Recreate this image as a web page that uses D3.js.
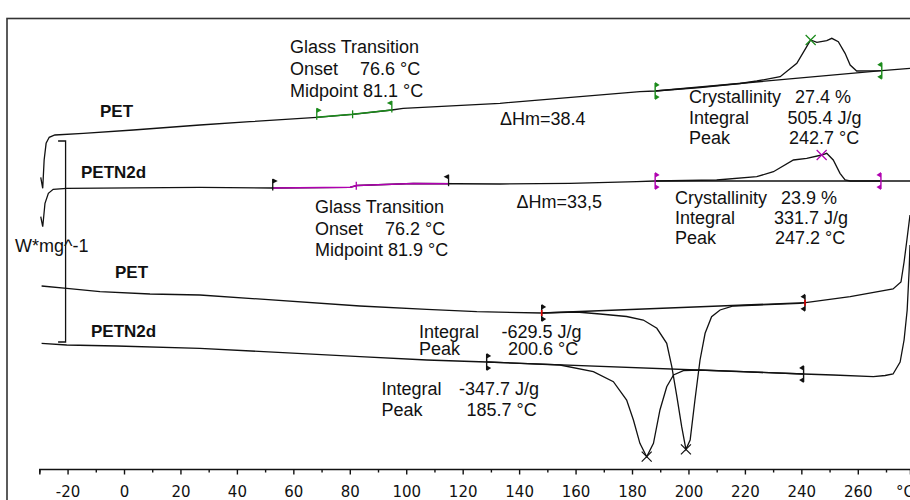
<!DOCTYPE html>
<html><head><meta charset="utf-8">
<script src="https://cdn.jsdelivr.net/npm/d3@7"></script>
<style>body{margin:0;background:#fff}svg text{font-family:"Liberation Sans",Arial,sans-serif;fill:#111}</style>
</head><body><svg id="c" width="910" height="500"></svg>
<script>
// ---- data: [temperature °C, heat flow (arbitrary offset units)] ----
const petHeating = [[-29.5,29.17],[-28.8,28.07],[-28.3,30.9],[-27.6,32.57],[-26.5,33.17],[-24.5,33.4],[-14.4,33.57],[3.3,33.9],[26.9,34.4],[44.6,34.73],[68.3,35.17],[81.0,35.47],[94.9,35.9],[98.9,36.07],[133.2,36.57],[182.8,37.73],[188.2,37.8],[204.1,38.15],[218.3,38.55],[224.2,38.8],[232.5,39.23],[238.4,40.57],[241.9,42.23],[243.3,42.9],[245.5,42.67],[249.0,42.83],[250.8,43.07],[253.1,42.73],[255.5,41.57],[257.3,40.4],[259.6,39.8],[268.5,39.83],[278.5,40.07]];
const petn2dHeating = [[-29.5,25.23],[-28.8,24.23],[-28.0,26.57],[-26.8,27.57],[-25.1,27.97],[-20.3,28.07],[26.9,28.17],[52.7,28.1],[80.1,28.17],[82.5,28.35],[102.5,28.55],[133.2,28.5],[158.0,28.57],[181.7,28.73],[188.2,28.8],[210.0,28.9],[224.2,29.23],[230.1,29.73],[237.2,30.9],[241.9,31.07],[247.2,31.4],[249.0,31.57],[251.3,30.9],[253.7,29.57],[255.5,28.9],[257.3,28.8],[278.5,28.8]];
const petCooling = [[-29.2,18.3],[-20.3,18.07],[-8.5,17.73],[9.2,17.5],[26.9,17.4],[83.6,16.3],[107.3,15.97],[125.0,15.73],[148.0,15.6],[160.4,15.7],[168.7,15.5],[178.1,15.25],[184.0,14.9],[188.8,14.07],[192.3,12.57],[194.1,10.23],[195.9,7.23],[197.6,4.23],[199.1,1.97],[200.6,2.9],[202.3,6.9],[204.1,10.9],[205.9,13.57],[208.2,15.23],[211.2,15.9],[215.9,16.3],[239.5,16.57],[257.3,17.23],[272.5,18.0],[275.3,18.7],[276.4,20.7],[277.4,22.9],[278.5,25.4]];
const petn2dCooling = [[-29.2,12.57],[-20.3,12.4],[-2.6,12.3],[26.9,12.07],[83.6,11.23],[107.3,10.9],[128.5,10.7],[154.5,10.4],[166.3,9.73],[173.4,8.73],[178.1,6.9],[180.5,4.9],[182.8,2.57],[185.2,1.23],[187.6,2.57],[189.9,5.9],[192.3,8.23],[194.7,9.4],[198.2,9.83],[204.1,9.9],[219.5,9.73],[240.7,9.5],[251.3,9.4],[265.5,9.23],[269.7,9.35],[272.5,9.5],[275.0,10.7],[276.4,12.9],[277.5,15.9],[278.2,19.9],[278.5,22.4]];

// evaluation limits (°C)
const petTg = [68.3, 81.0, 94.9];
const petn2dTg = [52.7, 82.3, 115.0];
const petMeltLimits = [188.2, 268.5];
const petn2dMeltLimits = [188.2, 268.2];
const petCoolLimits = [148.0, 241.3];
const petn2dCoolLimits = [128.5, 240.8];
const peakMarks = [[243.3,42.9,"#1a8a1a"],[247.2,31.4,"#b000b0"],[199.1,1.97,"#111"],[185.2,1.23,"#111"]];
const scaleBar = {t:-20.7, v0:12.7, v1:32.8};

const majorTicks = [-20,0,20,40,60,80,100,120,140,160,180,200,220,240,260];
const minorTicks = [-30,-10,10,30,50,70,90,110,130,150,170,190,210,230,250,270];
const tickLabels = ["-20","0","20","40","60","80","100","120","140","160","180","200","220","240","260"];

const GREEN="#1a8a1a", MAG="#b000b0", RED="#e00000";

const svg = d3.select("#c");
const x = d3.scaleLinear().domain([-30,278.5]).range([39.34,910]);
const y = d3.scaleLinear().domain([0,45]).range([469,19]);

// frame
svg.append("rect").attr("x",7).attr("y",18.5).attr("width",915).attr("height",500)
  .attr("fill","none").attr("stroke","#333").attr("stroke-width",1.6);

// axis
const axis = d3.axisBottom(x).tickValues(majorTicks.concat(minorTicks).sort((a,b)=>a-b))
  .tickSizeOuter(0).tickSize(5.5).tickPadding(12)
  .tickFormat(d=>{const i=majorTicks.indexOf(d);return i>=0?tickLabels[i]:"";});
const ga = svg.append("g").attr("transform","translate(0,469)").call(axis);
ga.select(".domain").attr("stroke","#111").attr("stroke-width",1.5);
ga.selectAll(".tick line").attr("stroke","#111").attr("stroke-width",1.4)
  .attr("y2",d=>majorTicks.includes(d)?5.5:3.5);
ga.selectAll(".tick text").style("font-family","'DejaVu Sans',sans-serif").style("font-size","15px").attr("fill","#111");
svg.append("text").attr("x",896).attr("y",496.5).style("font-family","'DejaVu Sans',sans-serif").style("font-size","15px").text("°C");

const line = d3.line().x(d=>x(d[0])).y(d=>y(d[1]));
function interp(c,t){for(let i=0;i<c.length-1;i++){const a=c[i],b=c[i+1];if(t>=a[0]&&t<=b[0]){const f=(t-a[0])/(b[0]-a[0]||1);return a[1]+f*(b[1]-a[1]);}}return c[c.length-1][1];}
function segment(c,t0,t1){const s=[[t0,interp(c,t0)]];c.forEach(p=>{if(p[0]>t0&&p[0]<t1)s.push(p);});s.push([t1,interp(c,t1)]);return s;}

function baseline(c,l,color){
  const b0=[l[0],interp(c,l[0])], b1=[l[1],interp(c,l[1])];
  svg.append("path").attr("d",line([b0,b1])).attr("fill","none").attr("stroke",color).attr("stroke-width",1.3);
}

// curves
[petHeating,petn2dHeating,petCooling,petn2dCooling].forEach(c=>{
  svg.append("path").attr("d",line(c)).attr("fill","none").attr("stroke","#111").attr("stroke-width",1.3);
});

// Tg colored segments
svg.append("path").attr("d",line(segment(petHeating,petTg[0],petTg[2]))).attr("fill","none").attr("stroke",GREEN).attr("stroke-width",1.6);
svg.append("path").attr("d",line(segment(petn2dHeating,petn2dTg[0],petn2dTg[2]))).attr("fill","none").attr("stroke",MAG).attr("stroke-width",1.6);

// integration baselines
baseline(petHeating,petMeltLimits,"#111");
baseline(petn2dHeating,petn2dMeltLimits,"#111");
baseline(petCooling,petCoolLimits,"#111");
baseline(petn2dCooling,petn2dCoolLimits,"#111");

// markers
function flag(c,t,dir,color){
  const px=x(t), py=y(interp(c,t));
  const g=svg.append("g");
  g.append("line").attr("x1",px).attr("x2",px).attr("y1",py-9).attr("y2",py+2.5).attr("stroke",color).attr("stroke-width",1.3);
  g.append("path").attr("d",`M${px},${py-9.5}L${px+5*dir},${py-7}L${px},${py-4.5}Z`).attr("fill",color);
}
function midTick(c,t,color){const px=x(t),py=y(interp(c,t));
  svg.append("line").attr("x1",px).attr("x2",px).attr("y1",py-4).attr("y2",py+4).attr("stroke",color).attr("stroke-width",1.3);}
function limit(c,t,dir,color,center){
  const px=x(t), py=y(interp(c,t));
  const g=svg.append("g");
  g.append("line").attr("x1",px).attr("x2",px).attr("y1",py-8).attr("y2",py+8).attr("stroke",color).attr("stroke-width",1.4);
  g.append("path").attr("d",`M${px},${py-9}L${px+4.5*dir},${py-6}L${px},${py-3.5}Z`).attr("fill",color);
  g.append("path").attr("d",`M${px},${py+9}L${px+4.5*dir},${py+6}L${px},${py+3.5}Z`).attr("fill",color);
  if(center) g.append("line").attr("x1",px).attr("x2",px).attr("y1",py-3).attr("y2",py+3).attr("stroke",center).attr("stroke-width",1.6);
}
flag(petHeating,petTg[0],1,GREEN); midTick(petHeating,petTg[1],GREEN); flag(petHeating,petTg[2],-1,GREEN);
flag(petn2dHeating,petn2dTg[0],1,"#111"); midTick(petn2dHeating,petn2dTg[1],MAG); flag(petn2dHeating,petn2dTg[2],-1,"#111");
limit(petHeating,petMeltLimits[0],1,GREEN); limit(petHeating,petMeltLimits[1],-1,GREEN);
limit(petn2dHeating,petn2dMeltLimits[0],1,MAG); limit(petn2dHeating,petn2dMeltLimits[1],-1,MAG);
limit(petCooling,petCoolLimits[0],1,"#111",RED); limit(petCooling,petCoolLimits[1],-1,"#111",RED);
limit(petn2dCooling,petn2dCoolLimits[0],1,"#111"); limit(petn2dCooling,petn2dCoolLimits[1],-1,"#111");

peakMarks.forEach(([t,v,col])=>{const px=x(t),py=y(v),s=5;
  svg.append("path").attr("d",`M${px-s},${py-s}L${px+s},${py+s}M${px-s},${py+s}L${px+s},${py-s}`).attr("stroke",col).attr("stroke-width",1.2).attr("fill","none");});

// scale bar
{const px=x(scaleBar.t), y0=y(scaleBar.v0), y1=y(scaleBar.v1);
 svg.append("path").attr("d",`M${px-7.5},${y1}H${px}V${y0}H${px-7.5}`).attr("fill","none").attr("stroke","#111").attr("stroke-width",1.3);}

// texts
const T=(xx,yy,str,opt={})=>{const t=svg.append("text").attr("x",xx).attr("y",yy).style("font-size",(opt.size||18)+"px").text(str);if(opt.bold)t.style("font-weight","bold");return t;};
T(100,117,"PET",{bold:true,size:17});
T(81,178,"PETN2d",{bold:true,size:17});
T(115,278,"PET",{bold:true,size:17});
T(91,337,"PETN2d",{bold:true,size:17});
T(15,252,"W*mg^-1");

T(290,53.3,"Glass Transition"); T(290,75,"Onset"); T(360,75,"76.6 °C"); T(290,96.7,"Midpoint 81.1 °C");
T(315,213,"Glass Transition"); T(315,234.5,"Onset"); T(385,234.5,"76.2 °C"); T(315,256,"Midpoint 81.9 °C");
T(500,125,"ΔHm=38.4");
T(516.5,208,"ΔHm=33,5");

T(689,103.3,"Crystallinity"); T(795,103.3,"27.4 %");
T(689,124,"Integral"); T(787.5,124,"505.4 J/g");
T(689,144,"Peak"); T(789,144,"242.7 °C");

T(675,204,"Crystallinity"); T(781,204,"23.9 %");
T(675,223.5,"Integral"); T(774,223.5,"331.7 J/g");
T(675,243.5,"Peak"); T(775,243.5,"247.2 °C");

T(419,338.3,"Integral"); T(501.5,338.3,"-629.5 J/g");
T(419,355,"Peak"); T(508,355,"200.6 °C");

T(381.5,395,"Integral"); T(459,395,"-347.7 J/g");
T(381.5,416,"Peak"); T(466.5,416,"185.7 °C");
</script></body></html>
